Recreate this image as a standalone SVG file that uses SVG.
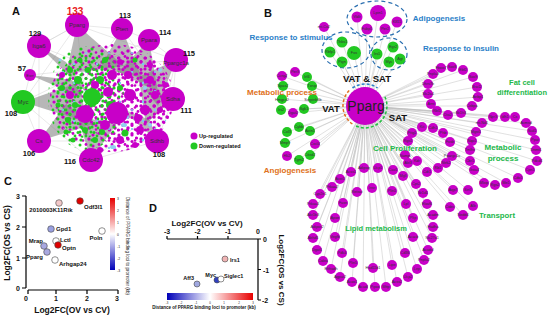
<svg xmlns="http://www.w3.org/2000/svg" width="550" height="317" viewBox="0 0 550 317">
<defs>
<style>
text{font-family:"Liberation Sans",Arial,sans-serif}
.u{fill:#c800c8}
.g{fill:#22c822}
.lb{fill:#8fd0f0}
.hl{font-size:6px;fill:#333;text-anchor:middle;dominant-baseline:central}
.num{font-size:7.5px;font-weight:bold;fill:#111;text-anchor:middle}
.t{font-size:3.8px;fill:#333;text-anchor:middle;dominant-baseline:central}
.cat{font-size:8px;font-weight:bold;text-anchor:middle}
.bl{fill:#2a80c8}
.or{fill:#e07020}
.gr{fill:#22b84a}
.pl{font-size:11px;font-weight:bold;fill:#111}
.ax{stroke:#000;stroke-width:1.2;fill:none}
.tk{font-size:7px;font-weight:bold;fill:#111}
.pt{stroke:#444;stroke-width:0.6}
.lbl{font-size:6px;font-weight:bold;fill:#111}
.tiny{font-size:3.4px;fill:#222}
.be path{stroke:#bdbdbd;stroke-width:0.45;fill:none}
.fan{fill:#7c7c7c;opacity:0.55}
.mesh{stroke:#c8c8c8;stroke-width:0.4;fill:none}
.dell{fill:none;stroke:#2a6fb0;stroke-width:1.2;stroke-dasharray:4 3}
</style>
<pattern id="pU" width="13" height="11" patternUnits="userSpaceOnUse">
<circle cx="2" cy="3" r="1.6" fill="#c800c8"/><circle cx="8" cy="1.5" r="1.4" fill="#c800c8"/><circle cx="11" cy="7" r="1.7" fill="#c800c8"/><circle cx="5" cy="8.5" r="1.3" fill="#c800c8"/>
</pattern>
<pattern id="pU2" width="9" height="8" patternUnits="userSpaceOnUse">
<circle cx="1.5" cy="2" r="1.6" fill="#c800c8"/><circle cx="6" cy="5.5" r="1.5" fill="#c800c8"/>
</pattern>
<pattern id="pG" width="11" height="13" patternUnits="userSpaceOnUse">
<circle cx="3" cy="2" r="1.5" fill="#22c822"/><circle cx="9" cy="6" r="1.4" fill="#22c822"/><circle cx="4" cy="10" r="1.6" fill="#22c822"/>
</pattern>
<pattern id="pG2" width="8" height="9" patternUnits="userSpaceOnUse">
<circle cx="2" cy="2" r="1.4" fill="#22c822"/><circle cx="6" cy="6.5" r="1.5" fill="#22c822"/>
</pattern>
<pattern id="pB" width="23" height="19" patternUnits="userSpaceOnUse">
<circle cx="5" cy="7" r="1.2" fill="#7cc8f0"/><circle cx="17" cy="15" r="1.1" fill="#7cc8f0"/>
</pattern>
<linearGradient id="cbV" x1="0" y1="0" x2="0" y2="1">
<stop offset="0" stop-color="#e80000"/><stop offset="0.5" stop-color="#ffffff"/><stop offset="1" stop-color="#0000b8"/>
</linearGradient>
<linearGradient id="cbH" x1="0" y1="0" x2="1" y2="0">
<stop offset="0" stop-color="#0000b8"/><stop offset="0.5" stop-color="#ffffff"/><stop offset="1" stop-color="#e80000"/>
</linearGradient>
</defs>
<rect width="550" height="317" fill="#fff"/>

<!-- ================= PANEL A ================= -->
<text class="pl" x="12" y="15">A</text>
<g id="A-connectors">
<path class="mesh" d="M77 25L122 29L149 40L176 60L173 99L157 141L91 160L39 141L23 102L30 75L39 46Z M77 25L176 60L157 141L39 141L39 46Z M122 29L173 99L91 160L23 102L77 25 M149 40L157 141 M39 46L173 99 M30 75L176 60 M23 102L149 40 M39 141L122 29 M91 160L77 25"/>
<polygon class="fan" points="77,25 66,74 124,66"/>
<polygon class="fan" points="122,29 100,68 142,78"/>
<polygon class="fan" points="149,40 118,72 158,92"/>
<polygon class="fan" points="176,60 136,78 158,106"/>
<polygon class="fan" points="173,99 140,86 146,124"/>
<polygon class="fan" points="157,141 120,108 150,120"/>
<polygon class="fan" points="91,160 78,118 118,122"/>
<polygon class="fan" points="39,141 66,104 94,124"/>
<polygon class="fan" points="23,102 80,82 86,122"/>
<polygon class="fan" points="30,75 72,80 84,98"/>
<polygon class="fan" points="39,46 66,62 90,96"/>
</g>
<g id="A-cluster">
<ellipse cx="112" cy="98" rx="62" ry="54" fill="url(#pU)"/>
<ellipse cx="128" cy="100" rx="44" ry="48" fill="url(#pU2)"/>
<ellipse cx="86" cy="98" rx="38" ry="52" fill="url(#pG)"/>
<ellipse cx="84" cy="96" rx="28" ry="42" fill="url(#pG2)"/>
<ellipse cx="112" cy="98" rx="60" ry="52" fill="url(#pB)"/>
<g class="g">
<circle cx="70" cy="70" r="3"/><circle cx="62" cy="88" r="3"/><circle cx="78" cy="80" r="4"/><circle cx="75" cy="105" r="3"/><circle cx="68" cy="120" r="3"/><circle cx="85" cy="130" r="3"/><circle cx="100" cy="80" r="4"/><circle cx="58" cy="105" r="2.5"/><circle cx="95" cy="140" r="3"/><circle cx="110" cy="105" r="4"/><circle cx="80" cy="60" r="2.5"/><circle cx="105" cy="60" r="3"/><circle cx="125" cy="133" r="3.5"/><circle cx="135" cy="60" r="2.5"/><circle cx="73" cy="140" r="2.5"/><circle cx="120" cy="88" r="3"/><circle cx="88" cy="70" r="3"/><circle cx="66" cy="132" r="2.5"/><circle cx="102" cy="132" r="3"/>
</g>
<g class="u">
<circle cx="130" cy="95" r="6"/><circle cx="145" cy="110" r="5"/><circle cx="150" cy="80" r="4"/><circle cx="112" cy="75" r="5"/><circle cx="128" cy="75" r="4"/><circle cx="140" cy="130" r="4"/><circle cx="105" cy="125" r="5"/><circle cx="120" cy="140" r="4"/><circle cx="160" cy="110" r="3"/><circle cx="155" cy="95" r="4"/><circle cx="95" cy="85" r="4"/><circle cx="135" cy="145" r="3"/><circle cx="108" cy="92" r="5"/><circle cx="70" cy="95" r="4"/><circle cx="62" cy="75" r="3"/><circle cx="100" cy="150" r="3"/><circle cx="150" cy="65" r="3"/><circle cx="165" cy="85" r="3"/><circle cx="138" cy="118" r="4"/><circle cx="120" cy="62" r="3"/><circle cx="148" cy="138" r="3"/>
</g>
<g class="lb">
<ellipse cx="126" cy="117" rx="3" ry="2"/><ellipse cx="124" cy="125" rx="3" ry="2"/><ellipse cx="113" cy="147" rx="3" ry="2"/><circle cx="160" cy="70" r="2"/><circle cx="150" cy="125" r="2"/><circle cx="90" cy="152" r="2"/><circle cx="145" cy="88" r="2"/><circle cx="60" cy="60" r="1.5"/>
</g>
<circle class="g" cx="92" cy="97" r="9"/>
<circle class="u" cx="85" cy="114" r="9"/>
<circle class="u" cx="117" cy="113" r="11"/>
</g>
<g id="A-pparg"><circle class="u" cx="77" cy="25" r="12"/><text class="hl" x="77" y="25">Pparg</text></g>
<g id="A-pten"><circle class="u" cx="122" cy="29" r="11"/><text class="hl" x="122" y="29">Pten</text></g>
<g id="A-ppara"><circle class="u" cx="149" cy="40" r="11"/><text class="hl" x="149" y="40">Ppara</text></g>
<g id="A-ppargc1a"><circle class="u" cx="176" cy="60" r="12"/><text class="hl" x="176" y="63">Ppargc1a</text></g>
<g id="A-sdha"><circle class="u" cx="173" cy="99" r="12"/><text class="hl" x="173" y="99">Sdha</text></g>
<g id="A-sdhb"><circle class="u" cx="157" cy="141" r="12"/><text class="hl" x="157" y="141">Sdhb</text></g>
<g id="A-cdc42"><circle class="u" cx="91" cy="160" r="12"/><text class="hl" x="91" y="160">Cdc42</text></g>
<g id="A-cs"><circle class="u" cx="39" cy="141" r="12"/><text class="hl" x="39" y="141">Cs</text></g>
<g id="A-myc"><circle class="g" cx="23" cy="102" r="12"/><text class="hl" x="23" y="102">Myc</text></g>
<g id="A-esrr"><circle class="u" cx="30" cy="75" r="6"/><text class="hl" x="30" y="75" style="font-size:4px">Esrr</text></g>
<g id="A-itga6"><circle class="u" cx="39" cy="46" r="12"/><text class="hl" x="39" y="46">Itga6</text></g>
<g id="A-numbers">
<text class="num" x="75" y="15" style="fill:#e82020;font-size:10px">133</text>
<text class="num" x="125" y="18">113</text>
<text class="num" x="165" y="35">114</text>
<text class="num" x="189" y="56">115</text>
<text class="num" x="186" y="113">111</text>
<text class="num" x="159" y="157">108</text>
<text class="num" x="70" y="164">116</text>
<text class="num" x="29" y="156">106</text>
<text class="num" x="11" y="116">108</text>
<text class="num" x="22" y="71">57</text>
<text class="num" x="35" y="36">129</text>
</g>
<g id="A-legend">
<circle class="u" cx="194" cy="136" r="3.5"/><text class="lbl" x="199" y="138" style="font-size:5.5px">Up-regulated</text>
<circle class="g" cx="194" cy="146" r="3.5"/><text class="lbl" x="199" y="148" style="font-size:5.5px">Down-regulated</text>
</g>

<!-- ================= PANEL B ================= -->
<text class="pl" x="264" y="17">B</text>
<g id="B-connectors" class="be">
<path d="M365 106L357 17"/><path d="M365 106L378 13"/><path d="M365 106L397 22"/><path d="M365 106L367 29"/><path d="M365 106L385 29"/><path d="M365 106L324 27"/>
<path d="M365 106L342 42"/><path d="M365 106L330 52"/><path d="M365 106L354 53"/><path d="M365 106L342 62"/>
<path d="M365 106L377 54"/><path d="M365 106L393 47"/><path d="M365 106L389 62"/><path d="M365 106L400 59"/>
<path d="M365 106L282 76"/><path d="M365 106L295 72"/><path d="M365 106L307 77"/><path d="M365 106L283 87"/><path d="M365 106L312 87"/><path d="M365 106L282 99"/><path d="M365 106L313 99"/><path d="M365 106L281 110"/><path d="M365 106L293 113"/><path d="M365 106L304 109"/>
<path d="M365 106L299 127"/><path d="M365 106L287 132"/><path d="M365 106L310 131"/><path d="M365 106L285 143"/><path d="M365 106L315 144"/><path d="M365 106L287 156"/><path d="M365 106L299 160"/><path d="M365 106L310 155"/>
<path d="M365 106L441 68"/><path d="M365 106L452 67"/><path d="M365 106L463 70"/><path d="M365 106L473 77"/><path d="M365 106L477 87"/><path d="M365 106L478 97"/><path d="M365 106L472 106"/><path d="M365 106L461 113"/><path d="M365 106L448 115"/><path d="M365 106L437 111"/><path d="M365 106L431 104"/><path d="M365 106L428 94"/><path d="M365 106L428 84"/><path d="M365 106L433 74"/>
<path d="M365 106L493 117"/><path d="M365 106L505 117"/><path d="M365 106L515 117"/><path d="M365 106L526 123"/><path d="M365 106L532 131"/><path d="M365 106L535 140"/><path d="M365 106L536 150"/><path d="M365 106L537 161"/><path d="M365 106L530 170"/><path d="M365 106L518 178"/><path d="M365 106L506 183"/><path d="M365 106L495 185"/><path d="M365 106L484 183"/><path d="M365 106L474 170"/><path d="M365 106L470 161"/><path d="M365 106L470 150"/><path d="M365 106L472 141"/><path d="M365 106L476 132"/><path d="M365 106L482 123"/>
<path d="M365 106L422 127"/><path d="M365 106L433 128"/><path d="M365 106L443 133"/><path d="M365 106L450 142"/><path d="M365 106L412 133"/><path d="M365 106L408 141"/><path d="M365 106L405 155"/><path d="M365 106L408 163"/><path d="M365 106L417 161"/><path d="M365 106L427 172"/><path d="M365 106L438 168"/><path d="M365 106L452 156"/><path d="M365 106L446 163"/>
<path d="M365 106L351 172"/><path d="M365 106L364 168"/><path d="M365 106L378 168"/><path d="M365 106L340 179"/><path d="M365 106L332 187"/><path d="M365 106L320 194"/><path d="M365 106L357 192"/><path d="M365 106L372 188"/><path d="M365 106L392 191"/><path d="M365 106L393 170"/><path d="M365 106L403 176"/><path d="M365 106L416 184"/><path d="M365 106L423 193"/><path d="M365 106L453 190"/><path d="M365 106L468 190"/><path d="M365 106L473 206"/><path d="M365 106L450 207"/><path d="M365 106L463 215"/>
<path d="M365 106L313 204"/><path d="M365 106L343 203"/><path d="M365 106L406 204"/><path d="M365 106L427 204"/><path d="M365 106L313 215"/><path d="M365 106L335 218"/><path d="M365 106L413 218"/><path d="M365 106L433 215"/><path d="M365 106L317 227"/><path d="M365 106L433 227"/><path d="M365 106L313 238"/><path d="M365 106L335 237"/><path d="M365 106L413 237"/><path d="M365 106L432 238"/><path d="M365 106L317 250"/><path d="M365 106L342 253"/><path d="M365 106L405 253"/><path d="M365 106L428 250"/><path d="M365 106L323 261"/><path d="M365 106L353 263"/><path d="M365 106L373 268"/><path d="M365 106L392 265"/><path d="M365 106L424 260"/><path d="M365 106L331 269"/><path d="M365 106L417 269"/><path d="M365 106L340 277"/><path d="M365 106L408 277"/><path d="M365 106L352 282"/><path d="M365 106L397 282"/><path d="M365 106L363 287"/><path d="M365 106L375 287"/><path d="M365 106L386 287"/>
</g>
<g id="B-groups">
<ellipse class="dell" cx="377" cy="19" rx="30" ry="18"/>
<ellipse class="dell" cx="346" cy="50" rx="24" ry="18"/>
<ellipse class="dell" cx="389" cy="54" rx="18" ry="16"/>
</g>
<g id="B-hub">
<circle class="u" cx="365" cy="106" r="19"/>
<text x="366" y="111" style="font-size:14px;fill:#222;text-anchor:middle">Pparg</text>
<path d="M352.4 88A22 22 0 0 1 377.6 88" fill="none" stroke="#2a80c8" stroke-width="1.5" stroke-dasharray="3 2"/>
<path d="M384.9 96.7A22 22 0 0 1 355.7 125.9" fill="none" stroke="#22c040" stroke-width="1.5" stroke-dasharray="3 2"/>
<path d="M352.4 124A22 22 0 0 1 349.4 90.4" fill="none" stroke="#e07020" stroke-width="1.5" stroke-dasharray="3 2"/>
</g>
<g id="B-nodes">
<g id="b1"><circle class="u" cx="357" cy="17" r="5.5"/><text class="t" x="357" y="17">Vldlr</text></g>
<g id="b2"><circle class="u" cx="378" cy="13" r="8"/><text class="t" x="378" y="13">Lpin1</text></g>
<g id="b3"><circle class="u" cx="397" cy="22" r="5.5"/><text class="t" x="397" y="22">Klf15</text></g>
<g id="b4"><circle class="u" cx="367" cy="29" r="5.5"/><text class="t" x="367" y="29">Fabp5</text></g>
<g id="b5"><circle class="u" cx="385" cy="29" r="5.5"/><text class="t" x="385" y="29">Per2</text></g>
<g id="b6"><circle class="u" cx="324" cy="27" r="5"/><text class="t" x="324" y="27">mt-Co2</text></g>
<g id="b7"><circle class="g" cx="342" cy="42" r="5.5"/><text class="t" x="342" y="42">Thbs1</text></g>
<g id="b8"><circle class="g" cx="330" cy="52" r="5.5"/><text class="t" x="330" y="52">Rbfp1</text></g>
<g id="b9"><circle class="g" cx="354" cy="53" r="7"/><text class="t" x="354" y="53">Fos</text></g>
<g id="b10"><circle class="g" cx="342" cy="62" r="5.5"/><text class="t" x="342" y="62">Pign</text></g>
<g id="b11"><circle class="g" cx="377" cy="54" r="5.5"/><text class="t" x="377" y="54">Irs1</text></g>
<g id="b12"><circle class="g" cx="393" cy="47" r="5.5"/><text class="t" x="393" y="47">Egr2</text></g>
<g id="b13"><circle class="g" cx="389" cy="62" r="5.5"/><text class="t" x="389" y="62">Myc</text></g>
<g id="b14"><circle class="g" cx="400" cy="59" r="5.5"/><text class="t" x="400" y="59">Agt</text></g>
<g id="b15"><circle class="u" cx="282" cy="76" r="5"/><text class="t" x="282" y="76">Ccng2</text></g>
<g id="b16"><circle class="u" cx="295" cy="72" r="5"/><text class="t" x="295" y="72">Per3</text></g>
<g id="b17"><circle class="g" cx="307" cy="77" r="5"/><text class="t" x="307" y="77">Irf4</text></g>
<g id="b18"><circle class="g" cx="283" cy="86" r="5"/><text class="t" x="283" y="86">Npas2</text></g>
<g id="b19"><circle class="g" cx="312" cy="86" r="5"/><text class="t" x="312" y="86">Txnip</text></g>
<g id="b20"><circle class="g" cx="282" cy="99" r="5"/><text class="t" x="282" y="100">Hmgcs2</text></g>
<g id="b21"><circle class="g" cx="313" cy="99" r="5"/><text class="t" x="313" y="100">Serpinb6b</text></g>
<g id="b22"><circle class="g" cx="281" cy="110" r="5"/><text class="t" x="281" y="110">Irs2</text></g>
<g id="b23"><circle class="u" cx="293" cy="113" r="5"/><text class="t" x="293" y="113">Dgat2</text></g>
<g id="b24"><circle class="g" cx="304" cy="109" r="5"/><text class="t" x="304" y="109">Sgk1</text></g>
<g id="b25"><circle class="g" cx="299" cy="127" r="5"/><text class="t" x="299" y="127">Cybb</text></g>
<g id="b26"><circle class="g" cx="287" cy="132" r="5"/><text class="t" x="287" y="132">Col3</text></g>
<g id="b27"><circle class="g" cx="310" cy="131" r="5"/><text class="t" x="310" y="131">Actn1</text></g>
<g id="b28"><circle class="g" cx="285" cy="143" r="5"/><text class="t" x="285" y="143">Mmp9</text></g>
<g id="b29"><circle class="u" cx="315" cy="144" r="5"/><text class="t" x="315" y="144">Cxcl4</text></g>
<g id="b30"><circle class="u" cx="287" cy="156" r="5"/><text class="t" x="287" y="156">Hk2</text></g>
<g id="b31"><circle class="g" cx="299" cy="160" r="5"/><text class="t" x="299" y="160">Tgm2</text></g>
<g id="b32"><circle class="g" cx="310" cy="155" r="5"/><text class="t" x="310" y="155">Cited2</text></g>
<g id="b33"><circle class="u" cx="441" cy="68" r="5"/><text class="t" x="441" y="68">Fbxw7</text></g>
<g id="b34"><circle class="u" cx="452" cy="67" r="5"/><text class="t" x="452" y="67">Sox8</text></g>
<g id="b35"><circle class="u" cx="463" cy="70" r="5"/><text class="t" x="463" y="70">Ebf2</text></g>
<g id="b36"><circle class="u" cx="473" cy="77" r="5"/><text class="t" x="473" y="77">Sox9</text></g>
<g id="b37"><circle class="u" cx="477" cy="87" r="5"/><text class="t" x="477" y="87">Bscl2</text></g>
<g id="b38"><circle class="u" cx="478" cy="97" r="5"/><text class="t" x="478" y="97">Aebp1</text></g>
<g id="b39"><circle class="u" cx="472" cy="106" r="5"/><text class="t" x="472" y="106">Cebpa</text></g>
<g id="b40"><circle class="u" cx="461" cy="113" r="5"/><text class="t" x="461" y="113">Nr1h3</text></g>
<g id="b41"><circle class="u" cx="448" cy="115" r="5"/><text class="t" x="448" y="115">Dio2</text></g>
<g id="b42"><circle class="u" cx="437" cy="111" r="5"/><text class="t" x="437" y="111">Rbl1</text></g>
<g id="b43"><circle class="u" cx="431" cy="104" r="5"/><text class="t" x="431" y="104">Arnt</text></g>
<g id="b44"><circle class="u" cx="428" cy="94" r="5"/><text class="t" x="428" y="94">Slc2a4</text></g>
<g id="b45"><circle class="u" cx="428" cy="84" r="5"/><text class="t" x="428" y="84">Dhrs7b</text></g>
<g id="b46"><circle class="u" cx="433" cy="74" r="5"/><text class="t" x="433" y="74">Pnpla3</text></g>
<g id="b47"><circle class="u" cx="493" cy="117" r="5"/><text class="t" x="493" y="117">Npr3</text></g>
<g id="b48"><circle class="u" cx="505" cy="117" r="5"/><text class="t" x="505" y="117">Idh1</text></g>
<g id="b49"><circle class="u" cx="515" cy="117" r="5"/><text class="t" x="515" y="117">Cs</text></g>
<g id="b50"><circle class="u" cx="526" cy="123" r="5"/><text class="t" x="526" y="123">Acmsd</text></g>
<g id="b51"><circle class="u" cx="532" cy="131" r="5"/><text class="t" x="532" y="131">Scd1</text></g>
<g id="b52"><circle class="u" cx="535" cy="140" r="5"/><text class="t" x="535" y="140">Ppat</text></g>
<g id="b53"><circle class="u" cx="536" cy="150" r="5"/><text class="t" x="536" y="150">Dnmt1</text></g>
<g id="b54"><circle class="u" cx="537" cy="161" r="5"/><text class="t" x="537" y="161">Pdcd4</text></g>
<g id="b55"><circle class="u" cx="530" cy="170" r="5"/><text class="t" x="530" y="170">Cpn1</text></g>
<g id="b56"><circle class="u" cx="518" cy="178" r="5"/><text class="t" x="518" y="178">Cdo1</text></g>
<g id="b57"><circle class="u" cx="506" cy="183" r="5"/><text class="t" x="506" y="183">Me1</text></g>
<g id="b58"><circle class="u" cx="495" cy="185" r="5"/><text class="t" x="495" y="185">Rgs2</text></g>
<g id="b59"><circle class="u" cx="484" cy="183" r="5"/><text class="t" x="484" y="183">Mlxip</text></g>
<g id="b60"><circle class="u" cx="474" cy="170" r="5"/><text class="t" x="474" y="170">Gsta4</text></g>
<g id="b61"><circle class="u" cx="470" cy="161" r="5"/><text class="t" x="470" y="161">Cbr1</text></g>
<g id="b62"><circle class="u" cx="470" cy="150" r="5"/><text class="t" x="470" y="150">Tmlhe</text></g>
<g id="b63"><circle class="u" cx="472" cy="141" r="5"/><text class="t" x="472" y="141">Nqo1</text></g>
<g id="b64"><circle class="u" cx="476" cy="132" r="5"/><text class="t" x="476" y="132">Mgst1</text></g>
<g id="b65"><circle class="u" cx="482" cy="123" r="5"/><text class="t" x="482" y="123">mt-Nd1</text></g>
<g id="b66"><circle class="u" cx="422" cy="127" r="5"/><text class="t" x="422" y="127">Kit</text></g>
<g id="b67"><circle class="u" cx="433" cy="128" r="5"/><text class="t" x="433" y="128">Cdh1</text></g>
<g id="b68"><circle class="u" cx="443" cy="133" r="5"/><text class="t" x="443" y="133">Phb</text></g>
<g id="b69"><circle class="u" cx="450" cy="142" r="5"/><text class="t" x="450" y="142">Fosb</text></g>
<g id="b70"><circle class="u" cx="412" cy="133" r="5"/><text class="t" x="412" y="133">Pttg1</text></g>
<g id="b71"><circle class="u" cx="408" cy="141" r="5"/><text class="t" x="408" y="141">Rgs1</text></g>
<g id="b72"><circle class="u" cx="405" cy="155" r="5"/><text class="t" x="405" y="156">Nampt</text></g>
<g id="b73"><circle class="u" cx="408" cy="163" r="5"/><text class="t" x="408" y="163">Akt3</text></g>
<g id="b74"><circle class="u" cx="417" cy="161" r="5"/><text class="t" x="417" y="161">Kdr</text></g>
<g id="b75"><circle class="u" cx="427" cy="172" r="5"/><text class="t" x="427" y="172">Cdt1</text></g>
<g id="b76"><circle class="u" cx="438" cy="168" r="5"/><text class="t" x="438" y="168">Rb1</text></g>
<g id="b77"><circle class="u" cx="452" cy="156" r="5"/><text class="t" x="452" y="156">Ppargc1a</text></g>
<g id="b78"><circle class="u" cx="446" cy="163" r="5"/><text class="t" x="446" y="163">Ntrk2</text></g>
<g id="b79"><circle class="u" cx="351" cy="172" r="5"/><text class="t" x="351" y="172">Acss1</text></g>
<g id="b80"><circle class="u" cx="364" cy="168" r="5"/><text class="t" x="364" y="168">Adipoq</text></g>
<g id="b81"><circle class="u" cx="378" cy="168" r="5"/><text class="t" x="378" y="168">Ucp1</text></g>
<g id="b82"><circle class="u" cx="340" cy="179" r="5"/><text class="t" x="340" y="179">Acot1</text></g>
<g id="b83"><circle class="u" cx="332" cy="187" r="5"/><text class="t" x="332" y="187">Prkaa2</text></g>
<g id="b84"><circle class="u" cx="320" cy="194" r="5"/><text class="t" x="320" y="194">Cyp2e1</text></g>
<g id="b85"><circle class="u" cx="357" cy="192" r="5"/><text class="t" x="357" y="192">Retsat</text></g>
<g id="b86"><circle class="u" cx="372" cy="188" r="5"/><text class="t" x="372" y="188">Insr</text></g>
<g id="b87"><circle class="u" cx="392" cy="191" r="5"/><text class="t" x="392" y="191">Plin1</text></g>
<g id="b88"><circle class="u" cx="393" cy="170" r="5"/><text class="t" x="393" y="170">Cav1</text></g>
<g id="b89"><circle class="u" cx="403" cy="176" r="5"/><text class="t" x="403" y="176">Mgll</text></g>
<g id="b90"><circle class="u" cx="416" cy="184" r="5"/><text class="t" x="416" y="184">Cpt2</text></g>
<g id="b91"><circle class="u" cx="423" cy="193" r="5"/><text class="t" x="423" y="193">Nr1d1</text></g>
<g id="b92"><circle class="u" cx="453" cy="190" r="5"/><text class="t" x="453" y="190">Aqp7</text></g>
<g id="b93"><circle class="u" cx="468" cy="190" r="5"/><text class="t" x="468" y="190">Sirt1</text></g>
<g id="b94"><circle class="u" cx="473" cy="206" r="5"/><text class="t" x="473" y="206">Alb</text></g>
<g id="b95"><circle class="u" cx="450" cy="207" r="5"/><text class="t" x="450" y="207">Cidec</text></g>
<g id="b96"><circle class="u" cx="463" cy="215" r="5"/><text class="t" x="463" y="215">Nedd4</text></g>
<g id="b97"><circle class="u" cx="313" cy="204" r="5"/><text class="t" x="313" y="204">Prkaa1</text></g>
<g id="b98"><circle class="u" cx="343" cy="203" r="5"/><text class="t" x="343" y="203">Fasn</text></g>
<g id="b99"><circle class="u" cx="406" cy="204" r="5"/><text class="t" x="406" y="204">Lpl</text></g>
<g id="b100"><circle class="u" cx="427" cy="204" r="5"/><text class="t" x="427" y="204">Elovl6</text></g>
<g id="b101"><circle class="u" cx="313" cy="215" r="5"/><text class="t" x="313" y="215">Akr1b3</text></g>
<g id="b102"><circle class="u" cx="335" cy="218" r="5"/><text class="t" x="335" y="218">Apoe</text></g>
<g id="b103"><circle class="u" cx="413" cy="218" r="5"/><text class="t" x="413" y="218">Pltp</text></g>
<g id="b104"><circle class="u" cx="433" cy="215" r="5"/><text class="t" x="433" y="215">Acadm</text></g>
<g id="b105"><circle class="u" cx="317" cy="227" r="5"/><text class="t" x="317" y="227">Adipor2</text></g>
<g id="b106"><circle class="u" cx="433" cy="227" r="5"/><text class="t" x="433" y="227">Hadha</text></g>
<g id="b107"><circle class="u" cx="313" cy="238" r="5"/><text class="t" x="313" y="238">Abhd5</text></g>
<g id="b108"><circle class="u" cx="335" cy="237" r="5"/><text class="t" x="335" y="237">Vegfb</text></g>
<g id="b109"><circle class="u" cx="413" cy="237" r="5"/><text class="t" x="413" y="237">Acacb</text></g>
<g id="b110"><circle class="u" cx="432" cy="238" r="5"/><text class="t" x="432" y="238">Slc27a1</text></g>
<g id="b111"><circle class="u" cx="317" cy="250" r="5"/><text class="t" x="317" y="250">Dgat1</text></g>
<g id="b112"><circle class="u" cx="342" cy="253" r="5"/><text class="t" x="342" y="253">Pdk4</text></g>
<g id="b113"><circle class="u" cx="405" cy="253" r="5"/><text class="t" x="405" y="253">Cd36</text></g>
<g id="b114"><circle class="u" cx="428" cy="250" r="5"/><text class="t" x="428" y="250">Acadvl</text></g>
<g id="b115"><circle class="u" cx="323" cy="261" r="5"/><text class="t" x="323" y="261">Cidea</text></g>
<g id="b116"><circle class="u" cx="353" cy="263" r="5"/><text class="t" x="353" y="263">Plin5</text></g>
<g id="b117"><circle class="u" cx="373" cy="268" r="5"/><text class="t" x="373" y="268">Hsd11b1</text></g>
<g id="b118"><circle class="u" cx="392" cy="265" r="5"/><text class="t" x="392" y="265">Lipe</text></g>
<g id="b119"><circle class="u" cx="424" cy="260" r="5"/><text class="t" x="424" y="260">Pnpla2</text></g>
<g id="b120"><circle class="u" cx="331" cy="269" r="5"/><text class="t" x="331" y="269">Ehhadh</text></g>
<g id="b121"><circle class="u" cx="417" cy="269" r="5"/><text class="t" x="417" y="269">Lep</text></g>
<g id="b122"><circle class="u" cx="340" cy="277" r="5"/><text class="t" x="340" y="277">Agpat2</text></g>
<g id="b123"><circle class="u" cx="408" cy="277" r="5"/><text class="t" x="408" y="277">Ucp2</text></g>
<g id="b124"><circle class="u" cx="352" cy="282" r="5"/><text class="t" x="352" y="282">Acox1</text></g>
<g id="b125"><circle class="u" cx="397" cy="282" r="5"/><text class="t" x="397" y="282">Acss2</text></g>
<g id="b126"><circle class="u" cx="363" cy="287" r="5"/><text class="t" x="363" y="287">Acadl</text></g>
<g id="b127"><circle class="u" cx="375" cy="287" r="5"/><text class="t" x="375" y="287">Pipox</text></g>
<g id="b128"><circle class="u" cx="386" cy="287" r="5"/><text class="t" x="386" y="287">Mttp</text></g>
</g>
<g id="B-labels">
<text class="cat" x="367" y="82" style="font-size:9.5px;fill:#111">VAT &amp; SAT</text>
<text class="cat" x="331" y="112" style="font-size:9.5px;fill:#111">VAT</text>
<text class="cat" x="398" y="121" style="font-size:9.5px;fill:#111">SAT</text>
<text class="cat bl" x="291" y="40">Response to stimulus</text>
<text class="cat bl" x="439" y="21">Adipogenesis</text>
<text class="cat bl" x="461" y="51">Response to insulin</text>
<text class="cat or" x="282" y="95">Metabolic process</text>
<text class="cat or" x="290" y="173">Angiogenesis</text>
<text class="cat gr" x="522" y="85" style="font-size:7.5px">Fat cell</text>
<text class="cat gr" x="522" y="95" style="font-size:7.5px">differentiation</text>
<text class="cat gr" x="405" y="151">Cell Proliferation</text>
<text class="cat gr" x="503" y="150">Metabolic</text>
<text class="cat gr" x="503" y="161">process</text>
<text class="cat gr" x="497" y="218" style="font-size:7.8px">Transport</text>
<text class="cat gr" x="376" y="231" style="font-size:7.5px">Lipid metabolism</text>
</g>

<!-- ================= PANEL C ================= -->
<text class="pl" x="4" y="185">C</text>
<g id="C-axes">
<path class="ax" d="M26 196V288M22 196H26M22 227H26M22 258H26M22 288H26"/>
<path class="ax" d="M28 290H118M56 290V294M87 290V294M118 290V294M28 290V294"/>
<text class="tk" x="20" y="199" text-anchor="end">3</text>
<text class="tk" x="20" y="230" text-anchor="end">2</text>
<text class="tk" x="20" y="261" text-anchor="end">1</text>
<text class="tk" x="20" y="291" text-anchor="end">0</text>
<text class="tk" x="26" y="301" text-anchor="middle">0</text>
<text class="tk" x="56" y="301" text-anchor="middle">1</text>
<text class="tk" x="87" y="301" text-anchor="middle">2</text>
<text class="tk" x="117" y="301" text-anchor="middle">3</text>
<text class="lbl" x="72" y="313" text-anchor="middle" style="font-size:8.5px">Log2FC(OV vs CV)</text>
<text class="lbl" transform="translate(10,243) rotate(-90)" text-anchor="middle" style="font-size:8.5px">Log2FC(OS vs CS)</text>
</g>
<g id="C-colorbar">
<rect x="110" y="198" width="5" height="72" fill="url(#cbV)"/>
<text class="tiny" x="117" y="199.5">3</text><text class="tiny" x="117" y="211.5">2</text><text class="tiny" x="117" y="223.5">1</text><text class="tiny" x="117" y="235.5">0</text><text class="tiny" x="117" y="247.5">-1</text><text class="tiny" x="117" y="259.5">-2</text><text class="tiny" x="117" y="271.5">-3</text>
<text class="tiny" transform="translate(126,246) rotate(90)" text-anchor="middle" style="font-size:4.6px">Distance of PPARG binding loci to promoter (kb)</text>
</g>
<g id="C-points">
<g id="c1"><circle class="pt" cx="59" cy="203" r="3.3" fill="#f2c8c8"/><text class="lbl" x="51" y="212" text-anchor="middle">2010003K11Rik</text></g>
<g id="c2"><circle class="pt" cx="80" cy="201" r="3.3" fill="#e00000"/><text class="lbl" x="84" y="209">Odf3l1</text></g>
<g id="c3"><circle class="pt" cx="51" cy="229" r="3.3" fill="#9aa0e0"/><text class="lbl" x="56" y="231">Gpd1</text></g>
<g id="c4"><circle class="pt" cx="102" cy="231" r="3.3" fill="#fff"/><text class="lbl" x="96" y="240" text-anchor="middle">Poln</text></g>
<g id="c5"><circle class="pt" cx="56" cy="241" r="3.3" fill="#fff"/><text class="lbl" x="60" y="242">Lctl</text></g>
<g id="c6"><circle class="pt" cx="58" cy="245" r="3.3" fill="#e00000"/><text class="lbl" x="62" y="250">Optn</text></g>
<g id="c7"><circle class="pt" cx="44" cy="246" r="3.3" fill="#a8a8e0"/><text class="lbl" x="43" y="243" text-anchor="end">Mrap</text></g>
<g id="c8"><circle class="pt" cx="47" cy="252" r="3.3" fill="#a8a8e0"/><text class="lbl" x="43" y="259" text-anchor="end">Pparg</text></g>
<g id="c9"><circle class="pt" cx="55" cy="260" r="3.3" fill="#fff"/><text class="lbl" x="59" y="266">Arhgap24</text></g>
</g>

<!-- ================= PANEL D ================= -->
<text class="pl" x="149" y="212">D</text>
<g id="D-axes">
<text class="lbl" x="207" y="226" text-anchor="middle" style="font-size:8px">Log2FC(OV vs CV)</text>
<path class="ax" d="M167 239H258M167 239V236M197.5 239V236M228 239V236M258 239V300M258 269.5H261M258 300H261M258 239H261"/>
<text class="tk" x="167" y="234" text-anchor="middle">-3</text>
<text class="tk" x="197.5" y="234" text-anchor="middle">-2</text>
<text class="tk" x="228" y="234" text-anchor="middle">-1</text>
<text class="tk" x="258" y="234" text-anchor="middle">0</text>
<text class="tk" x="263" y="242">0</text>
<text class="tk" x="263" y="273">-1</text>
<text class="tk" x="262" y="303">-2</text>
<text class="lbl" transform="translate(279,270) rotate(90)" text-anchor="middle" style="font-size:8px">Log2FC(OS vs CS)</text>
</g>
<g id="D-points">
<g id="d1"><circle class="pt" cx="225" cy="259" r="3" fill="#f0b4b4"/><text class="lbl" x="230" y="262" style="font-size:5.5px">Irs1</text></g>
<g id="d2"><circle class="pt" cx="217" cy="280" r="3" fill="#3040c0"/><text class="lbl" x="216" y="277" text-anchor="end" style="font-size:5.5px">Myc</text></g>
<g id="d3"><circle class="pt" cx="221" cy="279" r="3" fill="#fff"/><text class="lbl" x="224" y="278" style="font-size:5.5px">Siglec1</text></g>
<g id="d4"><circle class="pt" cx="197" cy="284" r="3" fill="#a0a8e0"/><text class="lbl" x="194" y="280" text-anchor="end" style="font-size:5.5px">Aff3</text></g>
</g>
<g id="D-colorbar">
<rect x="167" y="293" width="86" height="7" fill="url(#cbH)"/>
<text class="tiny" x="167" y="304" text-anchor="middle" style="font-size:2.8px">-3</text><text class="tiny" x="181" y="304" text-anchor="middle" style="font-size:2.8px">-2</text><text class="tiny" x="196" y="304" text-anchor="middle" style="font-size:2.8px">-1</text><text class="tiny" x="210" y="304" text-anchor="middle" style="font-size:2.8px">0</text><text class="tiny" x="224" y="304" text-anchor="middle" style="font-size:2.8px">1</text><text class="tiny" x="239" y="304" text-anchor="middle" style="font-size:2.8px">2</text><text class="tiny" x="253" y="304" text-anchor="middle" style="font-size:2.8px">3</text>
<text class="lbl" x="204" y="309" text-anchor="middle" style="font-size:4.5px">Distance of PPARG binding loci to promoter (kb)</text>
</g>
</svg>
